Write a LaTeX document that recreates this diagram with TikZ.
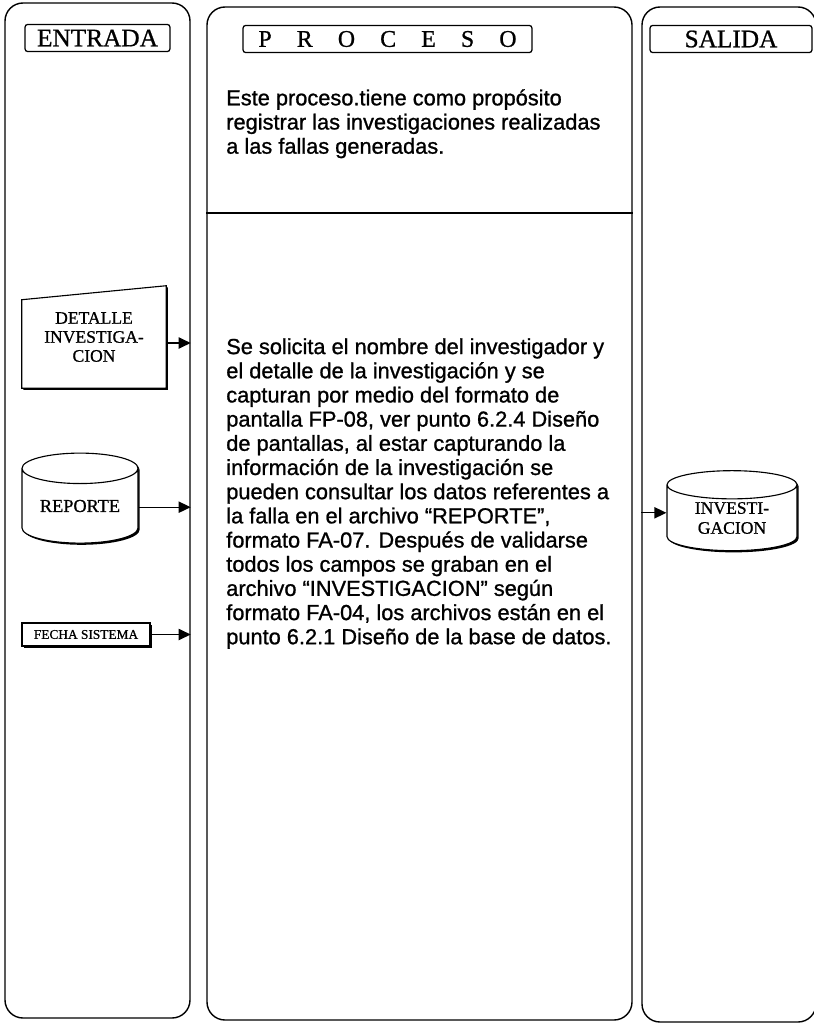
\documentclass[tikz,border=0pt]{standalone}
\usepackage{fontspec}
\setmainfont{Liberation Serif}[FakeBold=0.8]
\newfontfamily\arialfont[FakeBold=1]{Liberation Sans}
\usetikzlibrary{arrows.meta,shapes.geometric,shadows,backgrounds}

\begin{document}
\begin{tikzpicture}[>={Triangle[length=3mm,width=2.8mm]},
	panel/.style={draw, line width=1pt, rounded corners=0.45cm, inner sep=0pt},
	header/.style={draw, line width=0.9pt, rounded corners=2pt, inner sep=0pt, minimum height=0.68cm, font=\fontsize{18}{20}\selectfont},
	shade/.style={drop shadow={shadow xshift=1.2pt, shadow yshift=-1.2pt, opacity=1, fill=black}},
	database/.style={draw, line width=0.8pt, fill=white, cylinder, shape border rotate=90, aspect=0.38, shade, align=center, inner sep=0pt},
	flow/.style={->, line width=0.9pt},
	txt/.style={align=left, inner sep=0pt, font=\arialfont\fontsize{15.5}{17.2}\selectfont}]

	\useasboundingbox (0,0) rectangle (20.35,-25.6);

	% columns
	\node[panel, minimum width=4.625cm, minimum height=25.375cm] (entrada) at (2.4375,-12.7625) {};
	\node[panel, minimum width=10.625cm, minimum height=25.325cm] (proceso) at (10.4875,-12.8375) {};
	\node[panel, minimum width=4.35cm, minimum height=25.375cm] (salida) at (18.225,-12.8625) {};

	\node[header, minimum width=3.625cm] (hentrada) at (2.4375,-0.95) {ENTRADA};
	\node[header, minimum width=7.225cm, font=\fontsize{17}{19}\selectfont] (hproceso) at (9.6875,-0.975) {P\hspace{1.05em}R\hspace{1.05em}O\hspace{1.05em}C\hspace{1.05em}E\hspace{1.05em}S\hspace{1.05em}O};
	\node[header, minimum width=4.05cm] (hsalida) at (18.275,-0.975) {SALIDA};

	\coordinate (div) at (0,-5.325);
	\draw[line width=1pt] (proceso.west |- div) -- (proceso.east |- div);

	% process text
	\node[txt, anchor=north west] (intro) at (5.65,-2.225) {Este proceso.tiene como propósito\\registrar las investigaciones realizadas\\a las fallas generadas.};
	\node[txt, anchor=north west] (detalletxt) at (5.65,-8.45) {Se solicita el nombre del investigador y\\el detalle de la investigación y se\\capturan por medio del formato de\\pantalla FP-08, ver punto 6.2.4 Diseño\\de pantallas, al estar capturando la\\información de la investigación se\\pueden consultar los datos referentes a\\la falla en el archivo “REPORTE”,\\formato FA-07. Después de validarse\\todos los campos se graban en el\\archivo “INVESTIGACION” según\\formato FA-04, los archivos están en el\\punto 6.2.1 Diseño de la base de datos.};

	% inputs
	\node[inner sep=0pt, minimum width=3.6cm, minimum height=2.55cm, align=center, font=\fontsize{12.5}{13.5}\selectfont] (detalle) at (2.35,-8.425) {DETALLE\\INVESTIGA-\\CION};
	\begin{scope}[on background layer]
		\draw[line width=0.8pt, fill=white, shade] (detalle.south west) -- (detalle.south east) -- (detalle.north east) -- ([yshift=-0.35cm]detalle.north west) -- cycle;
	\end{scope}
	\node[database, minimum width=2.9cm, minimum height=2.25cm, font=\fontsize{13}{15}\selectfont] (reporte) at (2.0,-12.65) {REPORTE};
	\node[draw, line width=0.8pt, fill=white, shade, inner sep=0pt, minimum width=3.2cm, minimum height=0.575cm, font=\fontsize{9.5}{11}\selectfont] (fecha) at (2.15,-15.8625) {FECHA SISTEMA};

	% output
	\node[database, minimum width=3.25cm, minimum height=2.0cm, font=\fontsize{12.5}{14.2}\selectfont] (investigacion) at (18.3,-12.95) {INVESTI-\\GACION};

	\draw[flow] ([yshift=-1.5mm]detalle.east) -- ([yshift=-1.5mm]detalle.east -| entrada.east);
	\draw[flow] ([yshift=-0.3mm]reporte.east) -- ([yshift=-0.3mm]reporte.east -| entrada.east);
	\draw[flow] (fecha.east) -- (fecha.east -| entrada.east);
	\draw[flow] ([yshift=1.3mm]investigacion.west -| salida.west) -- ([yshift=1.3mm]investigacion.west);
\end{tikzpicture}
\end{document}
